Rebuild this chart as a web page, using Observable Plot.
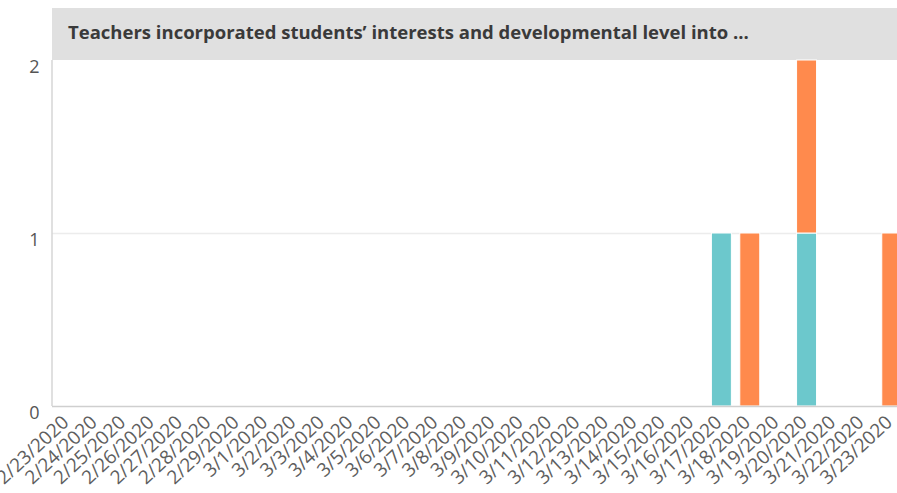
<!DOCTYPE html>
<html>
<head>
<meta charset="utf-8">
<script src="https://cdn.jsdelivr.net/npm/d3@7"></script>
<script src="https://cdn.jsdelivr.net/npm/@observablehq/plot@0.6"></script>
<style>
  html, body { margin: 0; padding: 0; background: #fff; overflow: hidden; width: 897px; height: 493px; }
  #wrap { position: relative; width: 897px; height: 493px; overflow: hidden; font-family: "Open Sans", sans-serif; }
  #header { position: absolute; left: 52px; top: 8px; width: 860px; height: 52px; background: #e0e0e0; box-sizing: border-box; padding-left: 16px; padding-top: 11px; font-size: 18.5px; font-weight: 700; color: #3a3a3a; white-space: nowrap; }
  #chart { position: absolute; left: 0; top: 60px; }
</style>
</head>
<body>
<div id="wrap">
  <div id="header">Teachers incorporated students’ interests and developmental level into ...</div>
  <div id="chart"></div>
</div>
<script>
const dates = ["2/23/2020","2/24/2020","2/25/2020","2/26/2020","2/27/2020","2/28/2020","2/29/2020",
  "3/1/2020","3/2/2020","3/3/2020","3/4/2020","3/5/2020","3/6/2020","3/7/2020","3/8/2020","3/9/2020",
  "3/10/2020","3/11/2020","3/12/2020","3/13/2020","3/14/2020","3/15/2020","3/16/2020","3/17/2020",
  "3/18/2020","3/19/2020","3/20/2020","3/21/2020","3/22/2020","3/23/2020"];
const seriesNames = ["Response A", "Response B"];
const tealValues   = [0,0,0,0,0,0,0, 0,0,0,0,0,0,0,0,0, 0,0,0,0,0,0,0,1, 0,0,1,0,0,0];
const orangeValues = [0,0,0,0,0,0,0, 0,0,0,0,0,0,0,0,0, 0,0,0,0,0,0,0,0, 1,0,1,0,0,1];
const seriesColors = ["#6cc8cc", "#ff8a4d"];
const yTicks = [0, 1, 2];

const rows = [];
dates.forEach((d, i) => {
  rows.push({date: d, series: seriesNames[0], value: tealValues[i]});
  rows.push({date: d, series: seriesNames[1], value: orangeValues[i]});
});

const leftLine = (index, scales, values, dims) => {
  const g = d3.create("svg:line")
    .attr("x1", dims.marginLeft).attr("x2", dims.marginLeft)
    .attr("y1", dims.marginTop).attr("y2", dims.height - dims.marginBottom)
    .attr("stroke", "#d6d6d6").attr("stroke-width", 1.5);
  return g.node();
};

const plot = Plot.plot({
  width: 908,
  height: 433,
  marginLeft: 52,
  marginRight: 0,
  marginTop: 0,
  marginBottom: 87,
  style: {fontFamily: "'Open Sans', sans-serif", fontSize: "16px", color: "#555", background: "transparent", maxWidth: "none", overflow: "visible"},
  x: {domain: dates, paddingInner: 0.296, paddingOuter: 0.22, round: false, axis: null},
  y: {domain: [0, 2], axis: null},
  color: {domain: seriesNames, range: seriesColors},
  marks: [
    Plot.ruleY([1], {stroke: "#ececec", strokeWidth: 1.5}),
    Plot.barY(rows, {x: "date", y: "value", fill: "series", stroke: "#fff", strokeWidth: 1}),
    Plot.ruleY([0], {stroke: "#cfcfcf", strokeWidth: 1.5}),
    leftLine,
    Plot.axisY({ticks: yTicks, tickFormat: "d", label: null, tickSize: 0, tickPadding: 13, dy: 7, fill: "#555", fontSize: 18}),
    Plot.axisX({label: null, tickSize: 0, tickRotate: -43, tickPadding: 13, dx: -3, fill: "#5e5e5e", fontSize: 19})
  ]
});
document.getElementById("chart").appendChild(plot);
</script>
</body>
</html>
